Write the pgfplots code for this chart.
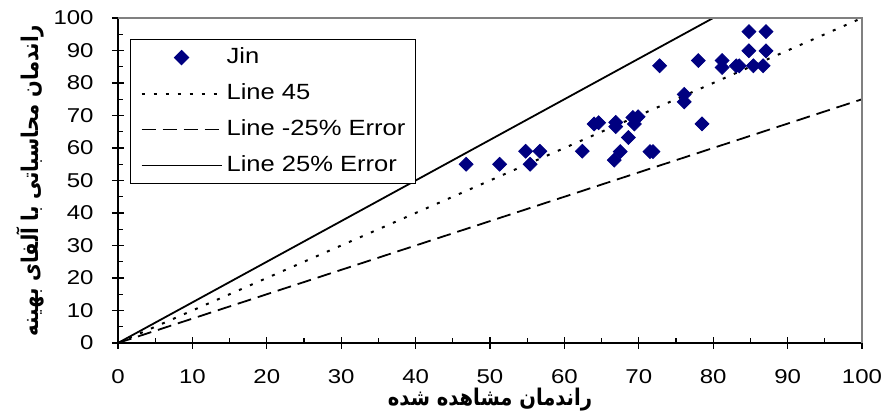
\documentclass[border=0pt]{standalone}
\usepackage{fontspec}
\usepackage{pgfplots}
\pgfplotsset{compat=1.18}
\TeXXeTstate=1
\newfontfamily\tickfont{Liberation Sans}[FakeStretch=1.2]
\newfontfamily\legfont{Liberation Sans}[FakeStretch=1.16]
\newfontfamily\arabicfont[Script=Arabic, FakeStretch=0.85]{DejaVu Sans}
\definecolor{jinblue}{HTML}{000080}
\definecolor{framegray}{HTML}{808080}
\pgfplotsset{
    linelegend/.style={legend image code/.code={\draw[##1] plot coordinates {(0pt,0pt) (40pt,0pt)};}},
    marklegend/.style={legend image code/.code={\path (0pt,0pt) (40pt,0pt); \draw[##1] plot coordinates {(20pt,0pt)};}},
}

\begin{document}
\begin{tikzpicture}
\useasboundingbox (-59pt,-37pt) rectangle (386pt,171.5pt);
\begin{axis}[
    scale only axis, width=372pt, height=162.5pt,
    xmin=0, xmax=100, ymin=0, ymax=100,
    xtick={0,10,...,100}, ytick={0,10,...,100},
    minor tick num=1,
    axis x line*=bottom, axis y line*=left,
    axis line style={black, line width=0.8pt, -},
    tick align=center, major tick length=6pt, minor tick length=2.5pt,
    tick style={black, line width=0.6pt},
    every minor x tick/.append style={yshift=1.25pt},
    every minor y tick/.append style={xshift=1.25pt},
    /pgf/number format/assume math mode=true,
    tick label style={font=\tickfont\fontsize{10}{10}\selectfont, inner sep=0pt},
    xticklabel style={anchor=north, yshift=-10.25pt},
    yticklabel style={anchor=east, xshift=-9pt},
    legend style={at={(rel axis cs:0,1)}, anchor=north west, xshift=6pt, yshift=-10.5pt,
        draw=black, line width=0.6pt, font=\legfont\fontsize{11}{11}\selectfont,
        inner xsep=5pt, inner ysep=4pt, row sep=8pt, column sep=2pt,
        nodes={inner sep=0pt, text height=8pt, text depth=2pt}},
    legend cell align=left,
    linelegend,
    after end axis/.code={\draw[framegray, line width=1pt] (rel axis cs:0,1) -- (rel axis cs:1,1) -- (rel axis cs:1,0);},
]
\addplot[only marks, mark=square*, mark size=2.45pt,
    mark options={rotate=45, fill=jinblue, draw=jinblue}, marklegend]
coordinates {
(46.8,55) (51.3,55) (54.8,59) (56.7,59) (55.4,55) (62.4,59)
(64.0,67.4) (64.6,67.8) (66.9,67.9) (66.9,66.6) (68.6,63.2) (67.5,58.9)
(66.7,56.3) (69.2,69.4) (69.9,69.6) (69.4,67.4) (71.5,58.9) (71.9,58.9)
(72.8,85.3) (76.1,76.5) (76.1,74.2) (78.0,86.9) (78.5,67.4) (81.2,86.9)
(81.2,84.8) (83.1,85.3) (83.5,85.3) (85.4,85.3) (86.7,85.3) (84.8,95.8)
(87.1,95.8) (84.8,89.9) (87.1,89.9)
};
\addlegendentry{Jin}
\addplot[black, line width=1pt, dash pattern=on 1.5pt off 4.5pt] coordinates {(0,0) (100,100)};
\addlegendentry{Line 45}
\addplot[black, line width=0.9pt, dash pattern=on 7pt off 3.5pt] coordinates {(0,0) (100,75)};
\addlegendentry{Line -25\% Error}
\addplot[black, line width=0.9pt] coordinates {(0,0) (80,100)};
\addlegendentry{Line 25\% Error}
\end{axis}
\node[rotate=90, font=\arabicfont\bfseries\fontsize{11.5}{13}\selectfont] at (-44pt,81.25pt)
    {\beginR راندمان محاسباتی با آلفای بهینه\endR};
\node[font=\arabicfont\bfseries\fontsize{11.5}{13}\selectfont] at (186pt,-28.5pt)
    {\beginR راندمان مشاهده شده\endR};
\end{tikzpicture}
\end{document}
